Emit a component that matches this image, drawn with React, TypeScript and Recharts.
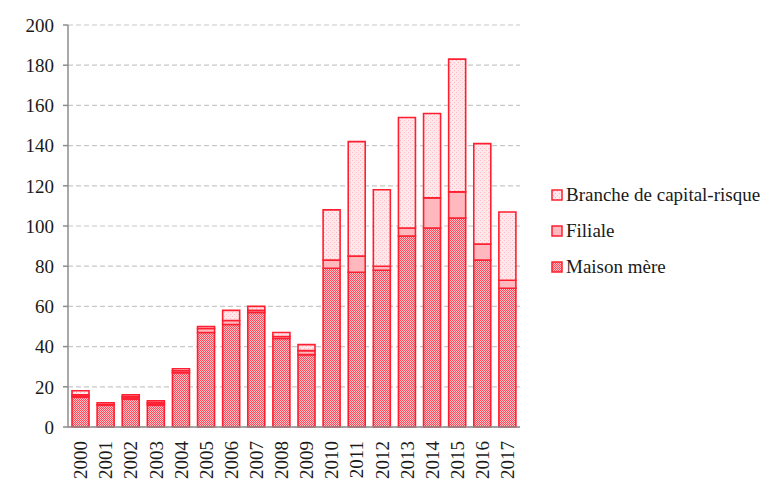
import React from 'react';
import { BarChart, Bar, XAxis, YAxis, CartesianGrid, Legend } from 'recharts';

const years = ['2000', '2001', '2002', '2003', '2004', '2005', '2006', '2007', '2008', '2009', '2010', '2011', '2012', '2013', '2014', '2015', '2016', '2017'];
const maisonMere = [15, 11, 14, 11, 27, 47, 51, 57, 44, 36, 79, 77, 78, 95, 99, 104, 83, 69];
const filiale = [1, 0, 1, 1, 1, 2, 2, 1, 1, 2, 4, 8, 2, 4, 15, 13, 8, 4];
const branche = [2, 1, 1, 1, 1, 1, 5, 2, 2, 3, 25, 57, 38, 55, 42, 66, 50, 34];
const yTicks = [0, 20, 40, 60, 80, 100, 120, 140, 160, 180, 200];
const edgeTicks = Array.from({ length: years.length + 1 }, (_, i) => i);

const data = years.map((year, i) => ({
  year,
  maison: maisonMere[i],
  filiale: filiale[i],
  branche: branche[i],
}));

const FONT = '"Liberation Serif", "Times New Roman", serif';
const RED = '#ff1f30';

const legendItems = [
  { name: 'Branche de capital-risque', fill: 'url(#patBranche)' },
  { name: 'Filiale', fill: '#ffb8be' },
  { name: 'Maison mère', fill: 'url(#patMaison)' },
];

const renderLegend = () => (
  <div style={{ fontFamily: FONT, fontSize: 19, color: '#1a1a1a' }}>
    {legendItems.map((item) => (
      <div key={item.name} style={{ display: 'flex', alignItems: 'center', height: 36 }}>
        <svg width={14} height={12} style={{ marginRight: 1 }}>
          <rect x={1} y={1} width={10} height={10} fill={item.fill} stroke={RED} strokeWidth={1.5} />
        </svg>
        <span>{item.name}</span>
      </div>
    ))}
  </div>
);

const YearTick = (props: any) => {
  const { x, y, payload } = props;
  return (
    <g transform={`translate(${x},${y})`}>
      <text
        transform="rotate(-90)"
        x={-14}
        y={0}
        dy="0.35em"
        textAnchor="end"
        fontFamily={FONT}
        fontSize={19}
        fill="#1a1a1a"
      >
        {payload.value}
      </text>
    </g>
  );
};

export default function App() {
  return (
    <div style={{ position: 'absolute', left: 0, top: 0, width: 775, height: 503, background: '#fff' }}>
      <BarChart
        width={775}
        height={503}
        data={data}
        margin={{ top: 25, right: 255, left: 0, bottom: 0 }}
        barSize={17}
      >
        <defs>
          <pattern id="patMaison" width={2} height={2} patternUnits="userSpaceOnUse">
            <rect width={2} height={2} fill="#ffc0c6" />
            <rect width={1} height={1} fill="#ff4a5b" />
            <rect x={1} y={1} width={1} height={1} fill="#ff4a5b" />
          </pattern>
          <pattern id="patBranche" width={4} height={4} patternUnits="userSpaceOnUse">
            <rect width={4} height={4} fill="#ffe8eb" />
            <rect width={1} height={1} fill="#ffb9c0" />
            <rect x={2} y={2} width={1} height={1} fill="#ffb9c0" />
          </pattern>
        </defs>
        <CartesianGrid vertical={false} stroke="#c8c8c8" strokeDasharray="5 3" strokeWidth={1.2} />
        <XAxis
          xAxisId="edge"
          type="number"
          domain={[0, years.length]}
          ticks={edgeTicks}
          tick={false}
          axisLine={false}
          tickLine={{ stroke: '#8c8c8c', strokeWidth: 1.5 }}
          tickSize={6}
          height={0}
        />
        <XAxis
          xAxisId="cat"
          dataKey="year"
          interval={0}
          tickLine={false}
          tickSize={0}
          tickMargin={0}
          axisLine={{ stroke: '#8c8c8c', strokeWidth: 1.5 }}
          tick={<YearTick />}
          height={76}
        />
        <YAxis
          domain={[0, 200]}
          ticks={yTicks}
          width={68}
          tickSize={5}
          tickMargin={9}
          axisLine={{ stroke: '#8c8c8c', strokeWidth: 1.5 }}
          tickLine={{ stroke: '#8c8c8c', strokeWidth: 1.5 }}
          tick={{ fontFamily: FONT, fontSize: 19, fill: '#1a1a1a' }}
        />
        <Legend
          layout="horizontal"
          verticalAlign="middle"
          align="center"
          content={renderLegend}
          wrapperStyle={{ left: 551, top: 177, width: 224, height: 108 }}
        />
        <Bar xAxisId="cat" dataKey="maison" name="Maison mère" stackId="a" fill="url(#patMaison)" stroke={RED} strokeWidth={1.6} isAnimationActive={false} />
        <Bar xAxisId="cat" dataKey="filiale" name="Filiale" stackId="a" fill="#ffb8be" stroke={RED} strokeWidth={1.6} isAnimationActive={false} />
        <Bar xAxisId="cat" dataKey="branche" name="Branche de capital-risque" stackId="a" fill="url(#patBranche)" stroke={RED} strokeWidth={1.6} isAnimationActive={false} />
      </BarChart>
    </div>
  );
}
